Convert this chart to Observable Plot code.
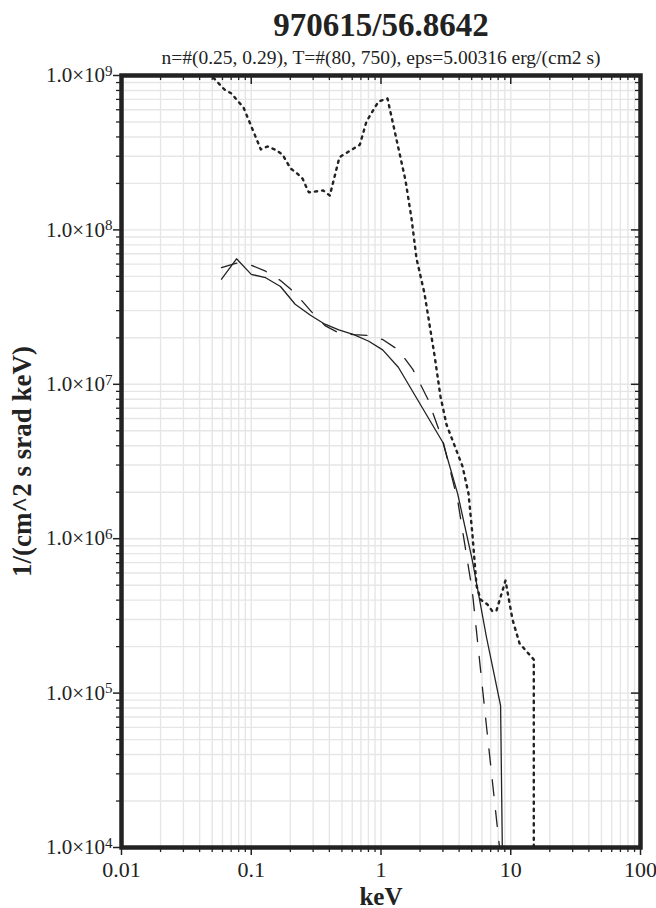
<!DOCTYPE html>
<html><head><meta charset="utf-8">
<script src="https://cdn.jsdelivr.net/npm/d3@7"></script>
<script src="https://cdn.jsdelivr.net/npm/@observablehq/plot@0.6"></script>
<style>body{margin:0;background:#fff}</style>
</head><body><div id="chart"></div>
<script>
const titleText = "970615/56.8642";
const subtitleText = "n=#(0.25, 0.29), T=#(80, 750), eps=5.00316 erg/(cm2 s)";
const xLabel = "keV";
const yLabel = "1/(cm^2 s srad keV)";

const xMajor = [0.01, 0.1, 1, 10, 100];
const xMajorLabels = ["0.01", "0.1", "1", "10", "100"];
const yMajor = [1e4, 1e5, 1e6, 1e7, 1e8, 1e9];
const yMajorLabels = ["1.0×10^4", "1.0×10^5", "1.0×10^6", "1.0×10^7", "1.0×10^8", "1.0×10^9"];

// solid curve
const energySolid = [0.059, 0.077, 0.100, 0.129, 0.168, 0.218, 0.286, 0.370, 0.473, 0.617, 0.805, 1.03, 1.36, 3.00, 3.90, 5.05, 6.50, 8.35, 8.9];
const fluxSolid   = [4.8e7, 6.5e7, 5.15e7, 4.9e7, 4.3e7, 3.3e7, 2.8e7, 2.45e7, 2.25e7, 2.1e7, 1.9e7, 1.67e7, 1.29e7, 4.2e6, 1.95e6, 7.3e5, 2.3e5, 8.3e4, 1e3];

// dashed curve
const energyDashed = [0.059, 0.077, 0.100, 0.129, 0.168, 0.218, 0.286, 0.370, 0.473, 0.617, 0.805, 1.03, 1.36, 1.76, 2.30, 3.00, 3.90, 5.05, 6.50, 8.50];
const fluxDashed   = [5.7e7, 6.1e7, 5.9e7, 5.4e7, 4.7e7, 3.9e7, 3.0e7, 2.4e7, 2.15e7, 2.1e7, 2.07e7, 1.95e7, 1.67e7, 1.25e7, 8.0e6, 4.3e6, 1.77e6, 4.6e5, 6.1e4, 7.5e3];

// dotted curve
const energyDotted = [0.0468, 0.0622, 0.0704, 0.0872, 0.1185, 0.1334, 0.1538, 0.1741, 0.2007, 0.2232, 0.2483, 0.2777, 0.3585, 0.4031, 0.4787, 0.6865, 0.7731, 0.9566, 1.122, 1.545, 1.719, 1.878, 2.164, 2.585, 2.874, 3.197, 4.248, 4.725, 5.074, 5.445, 5.847, 6.62, 7.233, 7.767, 9.11, 10.31, 11.68, 15.05, 15.05];
const fluxDotted   = [1.046e9, 8.11e8, 7.64e8, 6.2e8, 3.32e8, 3.47e8, 3.30e8, 3.08e8, 2.50e8, 2.34e8, 2.15e8, 1.75e8, 1.80e8, 1.67e8, 2.96e8, 3.56e8, 5.04e8, 6.79e8, 7.10e8, 2.09e8, 1.185e8, 6.53e7, 3.87e7, 1.54e7, 8.34e6, 5.49e6, 2.94e6, 1.96e6, 1.05e6, 4.98e5, 4.04e5, 3.75e5, 3.38e5, 3.43e5, 5.36e5, 3.0e5, 2.10e5, 1.65e5, 1e2];

const toRows = (xs, ys) => xs.map((x, i) => ({x, y: ys[i]}));
const solid = toRows(energySolid, fluxSolid);
const dashed = toRows(energyDashed, fluxDashed);
const dotted = toRows(energyDotted, fluxDotted);

const minorOf = (majors) => majors.slice(0, -1).flatMap(p => [2,3,4,5,6,7,8,9].map(m => +(m * p).toPrecision(3)));
const xMinor = minorOf(xMajor);
const yMinor = minorOf(yMajor);

const W = 656, H = 908, mL = 121, mR = 16, mT = 75, mB = 61;
const fw = W - mL - mR, fh = H - mT - mB;
const ink = "#222";
const gridColor = "#e6e6e6";

const chart = Plot.plot({
  width: W, height: H,
  marginLeft: mL, marginRight: mR, marginTop: mT, marginBottom: mB,
  style: {fontFamily: "'Liberation Serif', 'Times New Roman', serif", background: "#fff", color: ink},
  x: {type: "log", domain: [0.01, 100], label: null},
  y: {type: "log", domain: [1e4, 1e9], label: null},
  marks: [
    Plot.ruleX([...xMinor, ...xMajor], {stroke: gridColor, strokeWidth: 1.4}),
    Plot.ruleY([...yMinor, ...yMajor], {stroke: gridColor, strokeWidth: 1.4}),
    Plot.line(dotted, {x: "x", y: "y", stroke: ink, strokeWidth: 2.4, strokeDasharray: "2.2,5", clip: true}),
    Plot.line(dashed, {x: "x", y: "y", stroke: ink, strokeWidth: 1.3, strokeDasharray: "16,15", clip: true}),
    Plot.line(solid, {x: "x", y: "y", stroke: ink, strokeWidth: 1.3, clip: true}),
    // inward ticks top / right
    Plot.ruleX(xMajor, {stroke: ink, strokeWidth: 1.5, insetBottom: fh - 9}),
    Plot.ruleX(xMinor, {stroke: ink, strokeWidth: 1.3, insetBottom: fh - 5}),
    Plot.ruleY(yMajor, {stroke: ink, strokeWidth: 1.5, insetLeft: fw - 9}),
    Plot.ruleY(yMinor, {stroke: ink, strokeWidth: 1.3, insetLeft: fw - 5}),
    // outward axes bottom / left
    Plot.axisX(xMinor, {anchor: "bottom", tickSize: 5, tickFormat: () => "", stroke: ink, strokeWidth: 1.3}),
    Plot.axisX(xMajor, {anchor: "bottom", tickSize: 8, tickPadding: 6, stroke: ink, strokeWidth: 1.5, fill: ink, fontSize: 22,
      tickFormat: d => xMajorLabels[xMajor.findIndex(v => Math.abs(Math.log10(v) - Math.log10(d)) < 1e-6)]}),
    Plot.axisY(yMinor, {anchor: "left", tickSize: 5, tickFormat: () => "", stroke: ink, strokeWidth: 1.3}),
    Plot.axisY(yMajor, {anchor: "left", tickSize: 8, tickPadding: 1, stroke: ink, strokeWidth: 1.5, fill: ink, fontSize: 21,
      tickFormat: d => yMajorLabels[yMajor.findIndex(v => Math.abs(Math.log10(v) - Math.log10(d)) < 1e-6)]}),
    Plot.frame({stroke: ink, strokeWidth: 4.5}),
    Plot.text([titleText], {text: d => d, frameAnchor: "top", lineAnchor: "middle", dy: -50, fontSize: 33, fontWeight: "bold", fill: ink}),
    Plot.text([subtitleText], {text: d => d, frameAnchor: "top", lineAnchor: "middle", dy: -18, fontSize: 19.5, fill: ink}),
    Plot.text([xLabel], {text: d => d, frameAnchor: "bottom", lineAnchor: "middle", dy: 49, fontSize: 25, fontWeight: "bold", fill: ink}),
    Plot.text([yLabel], {text: d => d, frameAnchor: "left", textAnchor: "middle", lineAnchor: "middle", rotate: -90, dx: -99, fontSize: 27, fontWeight: "bold", fill: ink})
  ]
});

// superscript exponents on the y tick labels
chart.querySelectorAll("text").forEach(t => {
  if (t.children.length === 0 && t.textContent.includes("^") && t.textContent.startsWith("1.0×10")) {
    const [base, exp] = t.textContent.split("^");
    t.textContent = base;
    const ts = document.createElementNS("http://www.w3.org/2000/svg", "tspan");
    ts.setAttribute("dy", "-6.5");
    ts.setAttribute("font-size", "15");
    ts.textContent = exp;
    t.appendChild(ts);
  }
});

document.getElementById("chart").appendChild(chart);
</script>
</body></html>
